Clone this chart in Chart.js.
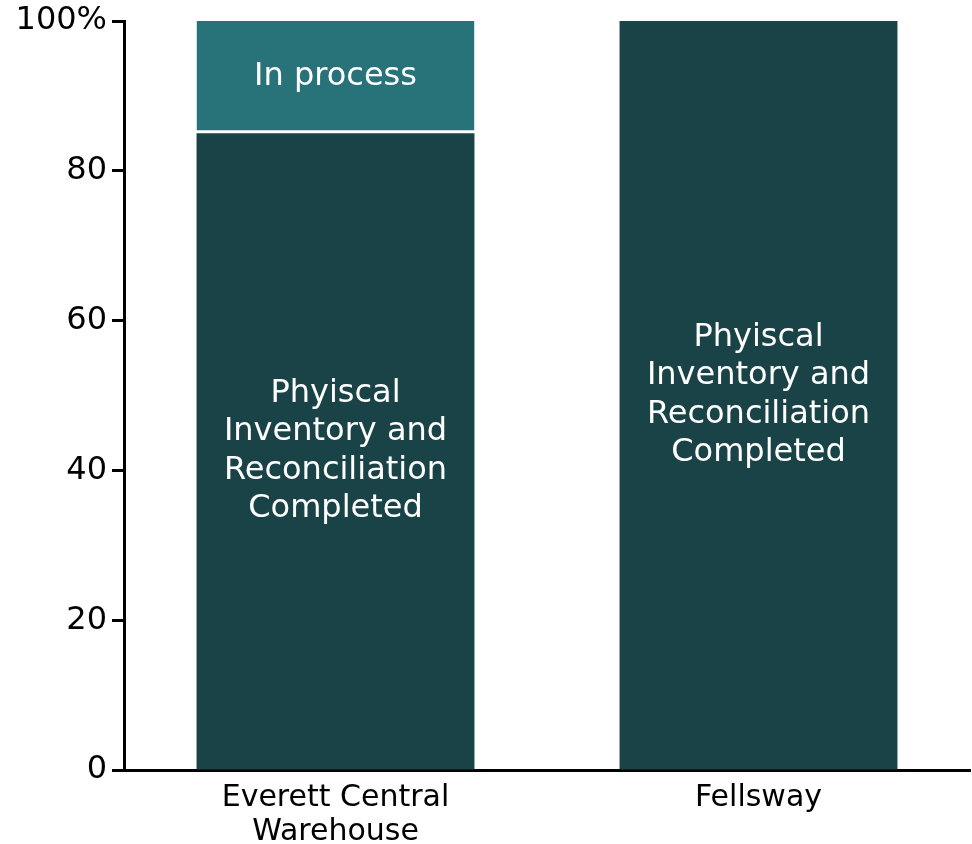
<!DOCTYPE html>
<html>
<head>
<meta charset="utf-8">
<script src="https://cdn.jsdelivr.net/npm/chart.js@4/dist/chart.umd.min.js"></script>
<style>
  html, body { margin: 0; padding: 0; background: #ffffff; }
  #wrap { width: 972px; height: 844px; position: relative; }
</style>
</head>
<body>
<div id="wrap"><canvas id="chart"></canvas></div>
<script>
// Share of warehouse inventory work, by site (percent)
const categories = [["Everett Central", "Warehouse"], "Fellsway"];
const completedValues = [85, 100];
const inProcessValues = [15, 0];
const completedLabels = [["Phyiscal", "Inventory and", "Reconciliation", "Completed"], ["Phyiscal", "Inventory and", "Reconciliation", "Completed"]];
const inProcessLabels = [["In process"], []];
const yTicks = [0, 20, 40, 60, 80, 100];

const FONT = "'DejaVu Sans', Verdana, sans-serif";

// Writes each segment's caption, centred in the segment, in white
const segmentLabels = {
  id: 'segmentLabels',
  afterDatasetsDraw(chart) {
    const ctx = chart.ctx;
    ctx.save();
    ctx.fillStyle = '#ffffff';
    ctx.font = '32px ' + FONT;
    ctx.textAlign = 'center';
    ctx.textBaseline = 'middle';
    chart.data.datasets.forEach((ds, di) => {
      const meta = chart.getDatasetMeta(di);
      meta.data.forEach((bar, i) => {
        const lines = ds.captions[i] || [];
        if (!lines.length || !ds.data[i]) return;
        const props = bar.getProps(['x', 'y', 'base'], true);
        const cy = (props.y + props.base) / 2;
        const lh = 38.5;
        const start = cy - (lines.length - 1) * lh / 2;
        lines.forEach((t, k) => ctx.fillText(t, props.x, start + k * lh));
      });
    });
    ctx.restore();
  }
};

new Chart(document.getElementById('chart'), {
  type: 'bar',
  data: {
    labels: categories,
    datasets: [
      {
        label: 'Completed',
        data: completedValues,
        captions: completedLabels,
        backgroundColor: '#1a4347',
        borderWidth: 0
      },
      {
        label: 'In process',
        data: inProcessValues,
        captions: inProcessLabels,
        backgroundColor: '#28727a',
        borderColor: '#ffffff',
        borderWidth: { top: 0, left: 0, right: 0, bottom: 3 },
        borderSkipped: false
      }
    ]
  },
  options: {
    responsive: true,
    maintainAspectRatio: false,
    animation: false,
    layout: { padding: { top: 0, right: 2, left: 0, bottom: 0 } },
    datasets: {
      bar: { categoryPercentage: 1, barPercentage: 0.657 }
    },
    plugins: {
      legend: { display: false },
      tooltip: { enabled: false }
    },
    scales: {
      x: {
        stacked: true,
        grid: { display: false },
        border: { color: '#000000', width: 3 },
        afterFit(scale) { scale.height = 74; },
        ticks: { color: '#000000', font: { family: FONT, size: 30, lineHeight: 1.13 }, padding: 3, maxRotation: 0 }
      },
      y: {
        stacked: true,
        min: 0,
        max: 100,
        afterBuildTicks(scale) { scale.ticks = yTicks.map(v => ({ value: v })); },
        afterFit(scale) { scale.width = 124; scale.paddingTop = 21; },
        grid: { drawOnChartArea: false, color: '#000000', tickLength: 12, tickWidth: 3 },
        border: { color: '#000000', width: 3 },
        ticks: {
          color: '#000000',
          font: { family: FONT, size: 32 },
          padding: 5,
          callback: v => (v === 100 ? '100%' : String(v))
        }
      }
    }
  },
  plugins: [segmentLabels]
});
</script>
</body>
</html>
